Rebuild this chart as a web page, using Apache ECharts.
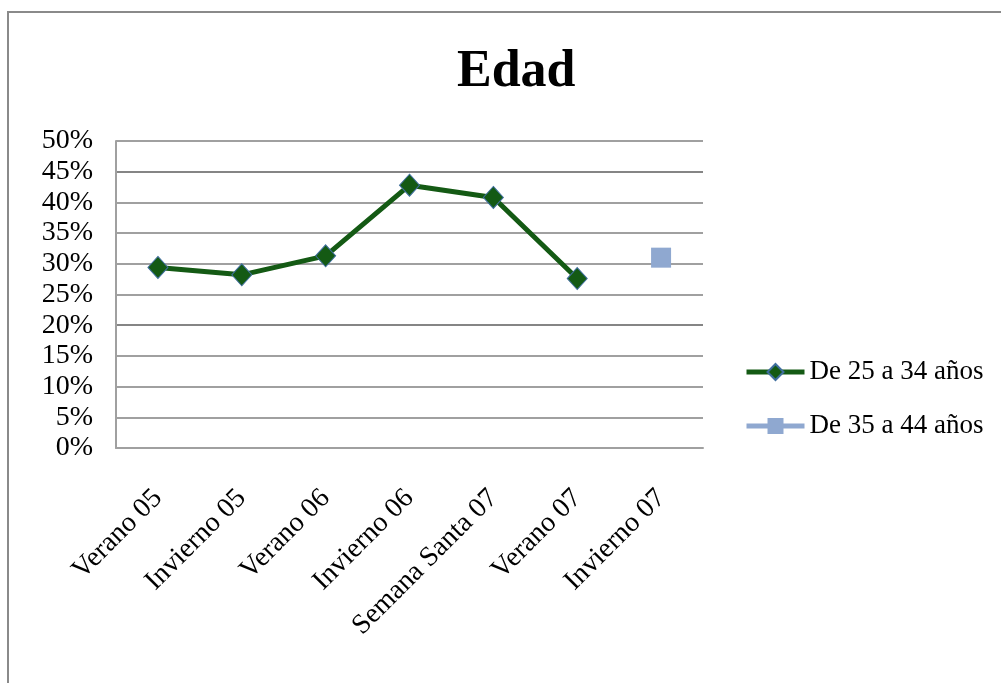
<!DOCTYPE html>
<html>
<head>
<meta charset="utf-8">
<script src="https://cdn.jsdelivr.net/npm/echarts@6/dist/echarts.min.js"></script>
<style>
html,body{margin:0;padding:0;background:#ffffff;}
#chart{width:1001px;height:683px;}
</style>
</head>
<body>
<div id="chart"></div>
<script>
var categories = ['Verano 05', 'Invierno 05', 'Verano 06', 'Invierno 06', 'Semana Santa 07', 'Verano 07', 'Invierno 07'];
var serie25a34 = [29.4, 28.2, 31.3, 42.8, 40.8, 27.6, null];
var serie35a44 = [null, null, null, null, null, null, 31.0];
var seriesNames = ['De 25 a 34 años', 'De 35 a 44 años'];
var yTicks = {min: 0, max: 50, interval: 5};

var FONT = '"Liberation Serif", "Times New Roman", serif';
var gridColors = ['#a0a0a0','#a0a0a0','#a0a0a0','#a0a0a0','#858585','#a0a0a0','#a0a0a0','#a0a0a0','#a0a0a0','#858585','#a0a0a0'];

var chart = echarts.init(document.getElementById('chart'), null, {renderer: 'canvas'});
chart.setOption({
  backgroundColor: '#ffffff',
  animation: false,
  graphic: [{
    type: 'rect',
    shape: {x: 8, y: 12, width: 1100, height: 800},
    style: {fill: 'none', stroke: '#8a8a8a', lineWidth: 2},
    silent: true, z: -1
  }],
  title: {
    text: 'Edad',
    left: 452,
    top: 42,
    textStyle: {fontFamily: FONT, fontSize: 52, fontWeight: 'bold', color: '#000'}
  },
  legend: {
    orient: 'vertical',
    left: 744,
    top: 358,
    padding: 0,
    itemWidth: 58,
    itemHeight: 20,
    itemGap: 26,
    lineStyle: {width: 5},
    textStyle: {fontFamily: FONT, fontSize: 27, color: '#000', lineHeight: 28},
    data: seriesNames
  },
  grid: {left: 116, right: 298, top: 141, bottom: 235, containLabel: false},
  xAxis: {
    type: 'category',
    data: categories,
    boundaryGap: true,
    axisLine: {show: true, lineStyle: {color: '#a0a0a0', width: 2}},
    axisTick: {show: false},
    axisLabel: {
      rotate: 45,
      interval: 0,
      margin: 46,
      fontFamily: FONT, fontSize: 28, color: '#000'
    },
    splitLine: {show: false}
  },
  yAxis: {
    type: 'value',
    min: yTicks.min, max: yTicks.max, interval: yTicks.interval,
    axisLine: {show: true, lineStyle: {color: '#a0a0a0', width: 2}},
    axisTick: {show: false},
    axisLabel: {formatter: '{value}%', margin: 23, fontFamily: FONT, fontSize: 28, color: '#000'},
    splitLine: {show: true, lineStyle: {color: gridColors, width: 2}}
  },
  series: [{
    name: seriesNames[0],
    type: 'line',
    data: serie25a34,
    connectNulls: false,
    symbol: 'diamond',
    symbolSize: [20, 22],
    lineStyle: {color: '#145a14', width: 5},
    itemStyle: {color: '#145a14', borderColor: '#3f6e9e', borderWidth: 1}
  }, {
    name: seriesNames[1],
    type: 'line',
    data: serie35a44,
    symbol: 'rect',
    symbolSize: 20,
    lineStyle: {color: '#8fa8d0', width: 5},
    itemStyle: {color: '#8fa8d0'}
  }]
});
</script>
</body>
</html>
